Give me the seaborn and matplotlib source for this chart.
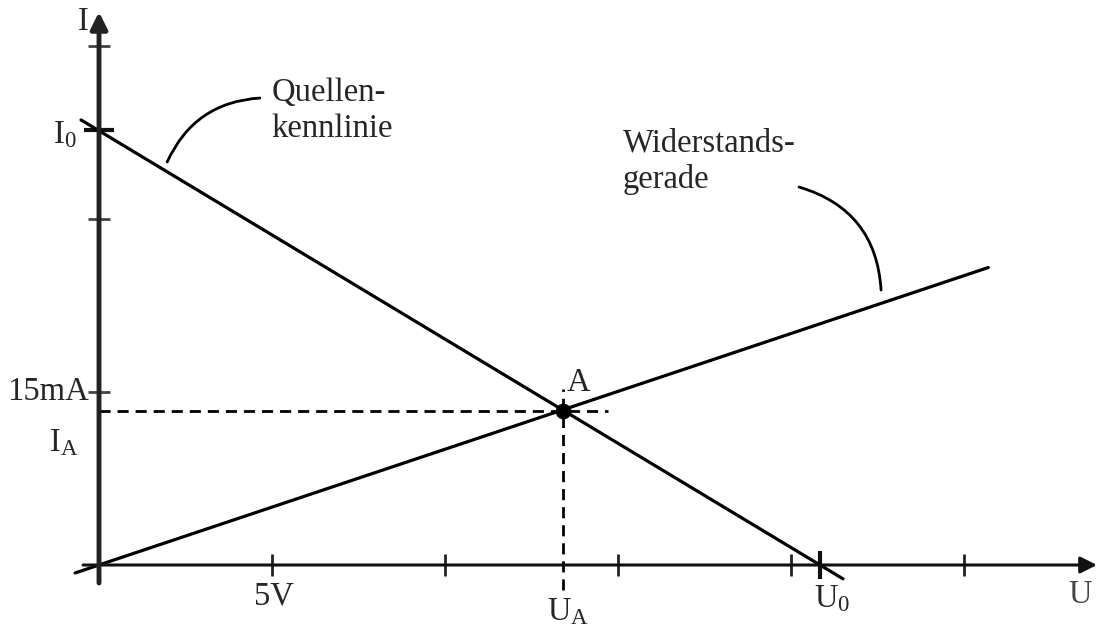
import matplotlib
matplotlib.use('Agg')
import matplotlib.pyplot as plt
import seaborn as sns
import pandas as pd

# Werte (U in V, I in mA)
u_ticks = [5, 10, 15, 20, 25]
i_ticks = [15, 30, 45]
U0 = 20.84
I0 = 37.7
UA = 13.4
IA = 13.35

# Quellenkennlinie und Widerstandsgerade (Endpunkte)
quelle_u = [-0.52, 21.5]
quelle_i = [38.6, -1.2]
widerstand_u = [-0.69, 25.7]
widerstand_i = [-0.69, 25.8]

# Achsenbereich
u_min, u_max = -0.46, 28.84
i_min, i_max = -1.56, 47.96

sns.set_theme(style='white')
plt.rcParams['font.family'] = ['Liberation Serif', 'DejaVu Serif']
plt.rcParams['mathtext.fontset'] = 'custom'
plt.rcParams['mathtext.rm'] = 'Liberation Serif'
plt.rcParams['mathtext.it'] = 'Liberation Serif'

fig = plt.figure(figsize=(10.97, 6.26), dpi=100)
ax = fig.add_axes([0, 0, 1, 1])
ax.set_xlim(-2.861, 28.84)
ax.set_ylim(-5.29, 49.0)
ax.axis('off')

# Achsen mit Pfeilen
ax.annotate('', xy=(u_max, 0), xytext=(u_min, 0),
            arrowprops=dict(arrowstyle='-|>', lw=2.2, color='#111111',
                            mutation_scale=25, shrinkA=0, shrinkB=0))
ax.annotate('', xy=(0, i_max), xytext=(0, i_min),
            arrowprops=dict(arrowstyle='-|>', lw=3.5, color='#222222',
                            mutation_scale=25, shrinkA=0, shrinkB=0))

# Teilstriche
ax.plot(u_ticks, [0] * len(u_ticks), ls='none', marker='|', ms=16,
        mew=2, color='#222222')
ax.plot([0] * len(i_ticks), i_ticks, ls='none', marker='_', ms=16,
        mew=2, color='#444444')
ax.plot([U0], [0], ls='none', marker='|', ms=20, mew=3, color='#111111')
ax.plot([0], [I0], ls='none', marker='_', ms=21, mew=3, color='#111111')

# Kennlinien
df_q = pd.DataFrame({'U': quelle_u, 'I': quelle_i})
df_w = pd.DataFrame({'U': widerstand_u, 'I': widerstand_i})
sns.lineplot(data=df_q, x='U', y='I', ax=ax, color='black', lw=2.3)
sns.lineplot(data=df_w, x='U', y='I', ax=ax, color='black', lw=2.3)

# Hilfslinien zum Arbeitspunkt
ax.plot([0, 14.7], [IA, IA], color='black', lw=2, ls=(0, (4, 2.5)))
ax.plot([UA, UA], [-2.2, 15.3], color='black', lw=2, ls=(0, (4, 2.5)))
sns.scatterplot(x=[UA], y=[IA], ax=ax, color='black', s=110, zorder=5,
                edgecolor='black')

fs = 23.5
ax.text(-0.3, 47.1, 'I', fontsize=fs, ha='right', va='center')
ax.text(-0.65, I0 - 0.4, r'$\mathrm{I}_\mathrm{0}$', fontsize=fs,
        ha='right', va='center')
ax.text(-0.3, 15.0, '15mA', fontsize=fs, ha='right', va='center')
ax.text(-0.6, 10.6, r'$\mathrm{I}_\mathrm{A}$', fontsize=fs,
        ha='right', va='center')
ax.text(5.05, -2.75, '5V', fontsize=fs, ha='center', va='center')
ax.text(UA + 0.15, -4.1, r'$\mathrm{U}_\mathrm{A}$', fontsize=fs,
        ha='center', va='center')
ax.text(U0 + 0.35, -2.9, r'$\mathrm{U}_\mathrm{0}$', fontsize=fs,
        ha='center', va='center')
ax.text(28.35, -2.55, 'U', fontsize=fs, ha='center', va='center',
        color='#444444')
ax.text(UA + 0.45, 15.8, 'A', fontsize=fs, ha='center', va='center')

ax.text(4.99, 39.4, 'Quellen-\nkennlinie', fontsize=fs, ha='left',
        va='center', linespacing=1.2)
ax.text(15.14, 35.0, 'Widerstands-\ngerade', fontsize=fs, ha='left',
        va='center', linespacing=1.2)

ax.annotate('', xy=(1.97, 34.95), xytext=(4.65, 40.5),
            arrowprops=dict(arrowstyle='-', lw=2, color='black',
                            shrinkA=0, shrinkB=0,
                            connectionstyle='arc3,rad=0.3'))
ax.annotate('', xy=(22.6, 23.85), xytext=(20.23, 32.78),
            arrowprops=dict(arrowstyle='-', lw=2, color='black',
                            shrinkA=0, shrinkB=0,
                            connectionstyle='arc3,rad=-0.35'))

fig.savefig('out.png', dpi=100)
